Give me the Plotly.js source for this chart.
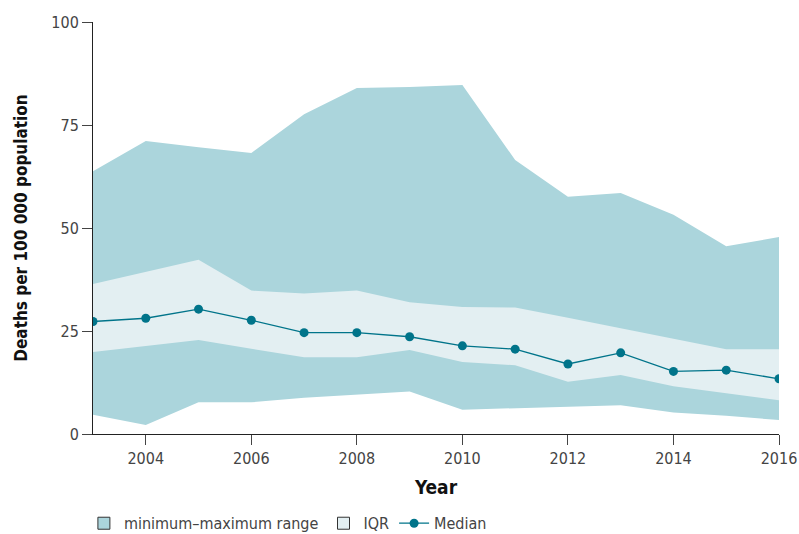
<!DOCTYPE html>
<html>
<head>
<meta charset="utf-8">
<script src="https://cdn.plot.ly/plotly-3.0.1.min.js"></script>
<style>html,body{margin:0;padding:0;background:#fff;}#chart{width:799px;height:534px;}</style>
</head>
<body>
<div id="chart"></div>
<script>
var years = [2003,2004,2005,2006,2007,2008,2009,2010,2011,2012,2013,2014,2015,2016];
var minVals = [4.7,2.2,7.7,7.7,8.8,9.6,10.3,5.9,6.3,6.6,7.0,5.2,4.4,3.4];
var maxVals = [63.8,71.1,69.6,68.2,77.6,84.0,84.2,84.7,66.5,57.6,58.5,53.2,45.6,47.8];
var q1Vals = [19.9,21.4,22.8,20.7,18.6,18.6,20.4,17.5,16.7,12.7,14.3,11.6,9.9,8.2];
var q3Vals = [36.4,39.4,42.3,34.8,34.1,34.8,32.0,30.8,30.7,28.2,25.6,23.1,20.6,20.6];
var medianVals = [27.3,28.1,30.3,27.6,24.6,24.6,23.6,21.4,20.6,17.0,19.7,15.2,15.5,13.4];
var xTicks = [2004,2006,2008,2010,2012,2014,2016];
var yTicks = [0,25,50,75,100];

var rangeColor = '#abd5dc';
var iqrColor = '#e3eff2';
var medColor = '#00748a';
var FONT = '"DejaVu Sans Condensed","Liberation Sans Narrow","Liberation Sans",sans-serif';

var traces = [
  {x: years, y: minVals, mode: 'lines', line: {width: 0}, showlegend: false, hoverinfo: 'skip'},
  {x: years, y: maxVals, mode: 'lines', line: {width: 0}, fill: 'tonexty', fillcolor: rangeColor, showlegend: false, hoverinfo: 'skip'},
  {x: years, y: q1Vals, mode: 'lines', line: {width: 0}, showlegend: false, hoverinfo: 'skip'},
  {x: years, y: q3Vals, mode: 'lines', line: {width: 0}, fill: 'tonexty', fillcolor: iqrColor, showlegend: false, hoverinfo: 'skip'},
  {type: 'bar', x: [null], y: [null], name: 'minimum\u2013maximum range', marker: {color: rangeColor, line: {color: '#333', width: 1}}},
  {type: 'bar', x: [null], y: [null], name: 'IQR', marker: {color: iqrColor, line: {color: '#333', width: 1}}},
  {x: years, y: medianVals, name: 'Median', mode: 'lines+markers', line: {color: medColor, width: 1.3}, marker: {color: medColor, size: 9}}
];

var layout = {
  width: 799, height: 534,
  margin: {l: 93, r: 20, t: 22, b: 100, autoexpand: false},
  paper_bgcolor: '#fff', plot_bgcolor: '#fff',
  font: {family: FONT, color: '#444', size: 16},
  xaxis: {
    range: [2003, 2016], tickvals: xTicks, ticktext: xTicks.map(String),
    showgrid: false, zeroline: false, showline: true, linecolor: '#222', linewidth: 1,
    ticks: 'outside', ticklen: 10, tickcolor: '#444', tickwidth: 1,
    tickfont: {family: FONT, size: 16, color: '#444'},
    title: {text: '<b>Year</b>', font: {family: FONT, size: 19, color: '#111'}, standoff: 13}
  },
  yaxis: {
    range: [0, 100], tickvals: yTicks, ticktext: yTicks.map(String),
    showgrid: false, zeroline: false, showline: true, linecolor: '#222', linewidth: 1,
    ticks: 'outside', ticklen: 10, tickcolor: '#444', tickwidth: 1,
    tickfont: {family: FONT, size: 16, color: '#444'},
    title: {text: '<b>Deaths per 100 000 population</b>', font: {family: FONT, size: 17, color: '#111'}, standoff: 19}
  },
  showlegend: true,
  legend: {orientation: 'h', x: 0.105, xref: 'container', xanchor: 'left', y: 0.02, yref: 'container', yanchor: 'middle',
    font: {family: FONT, size: 16, color: '#444'}, traceorder: 'normal'}
};

Plotly.newPlot('chart', traces, layout, {displayModeBar: false, staticPlot: true});
</script>
</body>
</html>
